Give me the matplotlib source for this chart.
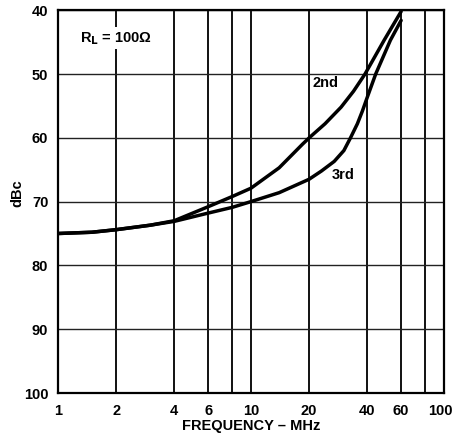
import matplotlib
matplotlib.use("Agg")
import matplotlib.pyplot as plt
from matplotlib.ticker import FixedLocator, FixedFormatter, NullLocator
from matplotlib.transforms import ScaledTranslation

plt.rcParams['font.family'] = ['Liberation Sans', 'DejaVu Sans']
plt.rcParams['font.weight'] = 'bold'

# Harmonic distortion vs frequency, R_L = 100 ohm
freq_2nd = [1, 1.5, 2, 3, 4, 6, 8, 10, 14, 18.5, 20.2, 24.2, 29.3, 34, 39, 49, 60]
dbc_2nd = [75, 74.8, 74.4, 73.7, 73.0, 70.8, 69.2, 67.9, 64.7, 61.0, 59.9, 57.8, 55.2, 52.7, 50.0, 44.7, 40.2]

freq_3rd = [1, 1.5, 2, 3, 4, 6, 8, 10, 14, 20, 23.2, 27, 30.3, 32.8, 35.6, 37.8, 40, 44.3, 52.8, 60]
dbc_3rd = [75, 74.8, 74.4, 73.7, 73.1, 71.8, 70.9, 70.0, 68.6, 66.5, 65.2, 63.7, 62.0, 60.0, 57.8, 55.8, 53.7, 50.0, 44.7, 41.6]

x_grid = [1, 2, 4, 6, 8, 10, 20, 40, 60, 80, 100]
x_ticks = [1, 2, 4, 6, 10, 20, 40, 60, 100]
x_tick_labels = ['1', '2', '4', '6', '10', '20', '40', '60', '100']
y_ticks = [40, 50, 60, 70, 80, 90, 100]

FS = 10.5

fig = plt.figure(figsize=(4.53, 4.36), dpi=100)
ax = fig.add_axes([0.128, 0.0986, 0.852, 0.878])

ax.set_xscale('log')
ax.set_xlim(1, 100)
ax.set_ylim(100, 40)

for xv in x_grid:
    ax.axvline(xv, color='#111111', lw=1.4, zorder=1)
for yv in y_ticks:
    ax.axhline(yv, color='#222222', lw=1.0, zorder=1)

for fx, fy in ((freq_2nd, dbc_2nd), (freq_3rd, dbc_3rd)):
    ax.plot(fx, fy, color='black', lw=2.5, solid_capstyle='round',
            solid_joinstyle='round', zorder=3)

ax.xaxis.set_major_locator(FixedLocator(x_ticks))
ax.xaxis.set_major_formatter(FixedFormatter(x_tick_labels))
ax.xaxis.set_minor_locator(NullLocator())
ax.set_yticks(y_ticks)
ax.tick_params(axis='x', length=0, labelsize=FS, pad=8)
ax.tick_params(axis='y', length=0, labelsize=FS, pad=7)
for lbl in ax.get_xticklabels() + ax.get_yticklabels():
    lbl.set_fontweight('bold')
# keep the last frequency label inside the canvas
last = ax.get_xticklabels()[-1]
last.set_transform(last.get_transform() + ScaledTranslation(-4 / 100, 0, fig.dpi_scale_trans))

for s in ax.spines.values():
    s.set_linewidth(1.6)
    s.set_color('black')

ax.set_xlabel('FREQUENCY – MHz', fontsize=FS, fontweight='bold')
ax.xaxis.set_label_coords(0.5, -0.087)
ax.xaxis.label.set_va('center')
ax.set_ylabel('dBc', fontsize=FS, fontweight='bold')
ax.yaxis.set_label_coords(-0.104, 0.522)
ax.yaxis.label.set_va('center')

ax.text(2, 44.4, r'R$_\mathbf{L}$ = 100Ω', fontsize=FS, fontweight='bold',
        ha='center', va='center', zorder=4,
        bbox=dict(facecolor='white', edgecolor='none', pad=2))
ax.text(24.2, 51.4, '2nd', fontsize=FS, fontweight='bold', ha='center', va='center', zorder=4)
ax.text(30, 65.9, '3rd', fontsize=FS, fontweight='bold', ha='center', va='center', zorder=4)

fig.savefig('out.png', dpi=100)
